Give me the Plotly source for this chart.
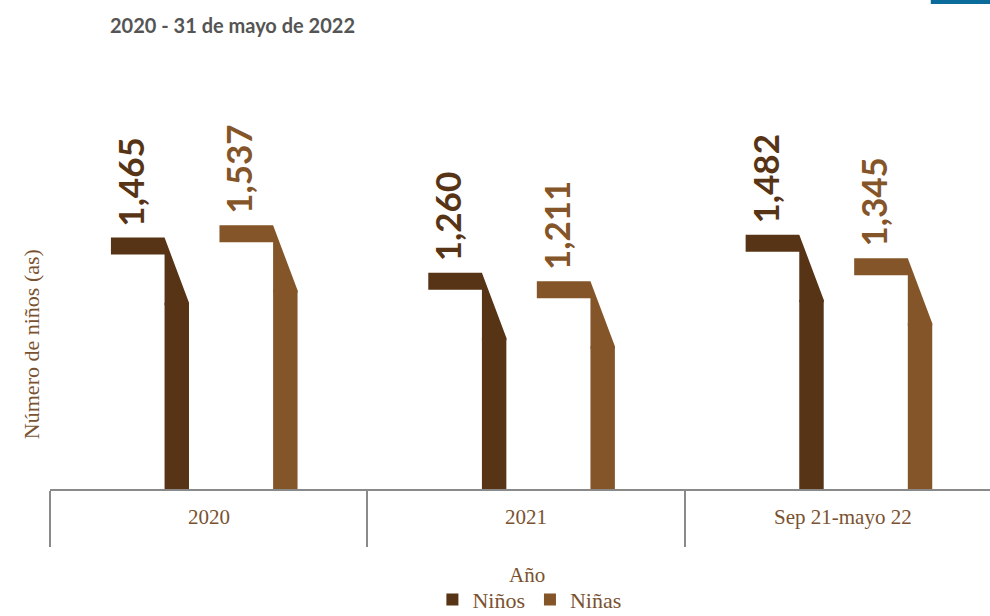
import plotly.graph_objects as go

# ---------------- data ----------------
categories = ["2020", "2021", "Sep 21-mayo 22"]
ninos = [1465, 1260, 1482]
ninas = [1537, 1211, 1345]
value_labels_ninos = ["1,465", "1,260", "1,482"]
value_labels_ninas = ["1,537", "1,211", "1,345"]
series_names = ["Niños", "Niñas"]

# ---------------- style ----------------
C_NINOS = "#573415"
C_NINAS = "#85552A"
C_TEXT = "#7A5230"
AX_GREY = "#8a8a8a"

Y_MAX = 2500          # axis range
FLAG_T = 99           # flag thickness (data units)
DROP = 379            # slanted drop (data units)
STEM_W = 0.077        # stem width (category units)
FLAG_LEN = 0.169      # flag length (category units)
FLAG_LEFT = {"Niños": -0.308, "Niñas": 0.034}

fig = go.Figure()


def add_series(name, values, labels, color):
    xs = list(range(len(values)))
    fl = FLAG_LEFT[name]
    sl = fl + FLAG_LEN
    sr = sl + STEM_W
    # stem rectangle (bar) up to where the slant ends
    fig.add_trace(go.Bar(
        x=xs, y=[v - DROP for v in values], base=0,
        width=STEM_W, offset=sl,
        marker=dict(color=color, line=dict(width=0)),
        name=name, legendgroup=name, hoverinfo="skip",
    ))
    # flag + slanted top
    px, py = [], []
    for i, v in enumerate(values):
        px += [i + fl, i + sl, i + sr, i + sr, i + sl, i + sl, i + fl, i + fl, None]
        py += [v, v, v - DROP, v - DROP - 15, v - DROP - 15, v - FLAG_T, v - FLAG_T, v, None]
    fig.add_trace(go.Scatter(
        x=px, y=py, mode="lines", fill="toself", fillcolor=color,
        line=dict(width=0, color=color), showlegend=False,
        legendgroup=name, hoverinfo="skip",
    ))
    for i, (v, t) in enumerate(zip(values, labels)):
        fig.add_annotation(
            x=i + fl + 0.06, y=v + 55, text=t, textangle=-90,
            xanchor="center", yanchor="bottom", showarrow=False,
            font=dict(family="Lato", size=35, color=color, weight="bold"),
        )


add_series("Niños", ninos, value_labels_ninos, C_NINOS)
add_series("Niñas", ninas, value_labels_ninas, C_NINAS)

# category labels
for i, c in enumerate(categories):
    fig.add_annotation(
        x=i, y=-0.066, xref="x", yref="paper", text=c, showarrow=False,
        xanchor="center", yanchor="middle",
        font=dict(family="Liberation Serif", size=21, color=C_TEXT),
    )

# axis titles
fig.add_annotation(
    x=0.507, y=-0.2, xref="paper", yref="paper", text="Año", showarrow=False,
    xanchor="center", yanchor="middle",
    font=dict(family="Liberation Serif", size=21, color=C_TEXT),
)
fig.add_annotation(
    x=-0.019, y=0.338, xref="paper", yref="paper", text="Número de niños (as)",
    textangle=-90, showarrow=False, xanchor="center", yanchor="middle",
    font=dict(family="Liberation Serif", size=22, color=C_TEXT),
)
# subtitle
fig.add_annotation(
    x=0.0617, y=1.0816, xref="paper", yref="paper",
    text="<b>2020 - 31 de mayo de 2022</b>", showarrow=False,
    xanchor="left", yanchor="middle",
    font=dict(family="Lato", size=20, color="#555555"),
)

# blue accent bar at top-right
fig.add_shape(type="rect", xref="paper", yref="paper",
              x0=0.937, x1=1.0, y0=1.1305, y1=1.145,
              fillcolor="#0B6C9C", line=dict(width=0))

fig.update_layout(
    width=990, height=616,
    margin=dict(l=50, r=0, t=60, b=127, autoexpand=False),
    paper_bgcolor="white", plot_bgcolor="white",
    barmode="overlay",
    showlegend=True,
    legend=dict(
        orientation="h", x=0.51, xanchor="center", y=-0.258, yanchor="middle",
        font=dict(family="Liberation Serif", size=22, color=C_TEXT),
        itemwidth=30, traceorder="normal",
    ),
    xaxis=dict(
        range=[-0.5, 2.462], showgrid=False, zeroline=False,
        showline=True, linecolor=AX_GREY, linewidth=1.5,
        tickmode="array", tickvals=[-0.5, 0.5, 1.5, 2.5],
        ticks="outside", ticklen=56, tickwidth=1.5, tickcolor=AX_GREY,
        showticklabels=False,
    ),
    yaxis=dict(
        range=[0, Y_MAX], visible=False, showgrid=False, zeroline=False,
    ),
)

fig.write_html(
    "out.html",
    config={"displayModeBar": False},
    post_script="document.body.style.margin='0';document.body.style.overflow='hidden';",
)
